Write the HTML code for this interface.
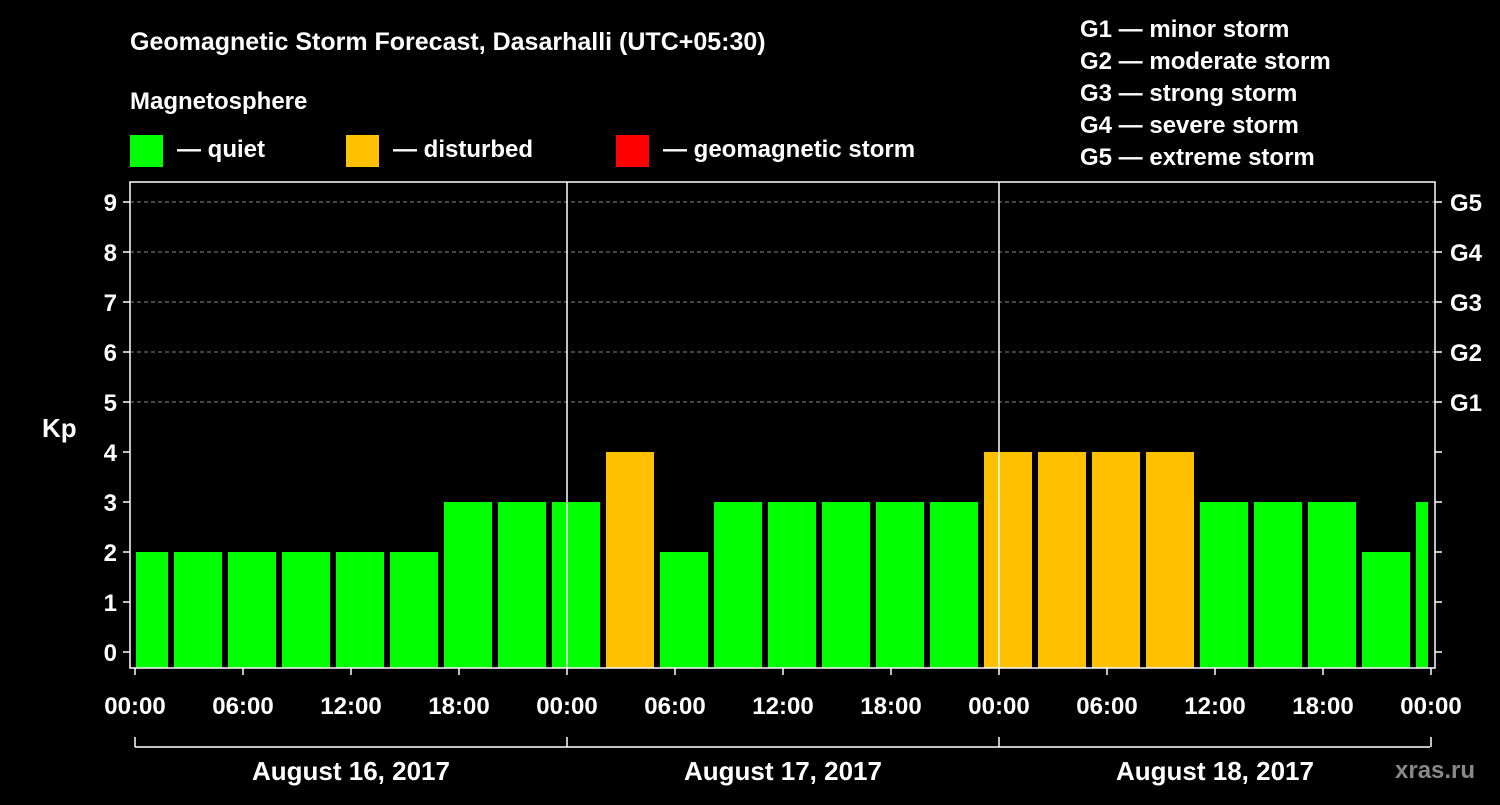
<!DOCTYPE html>
<html><head><meta charset="utf-8"><style>
body{margin:0;background:#000;width:1500px;height:800px;overflow:hidden}
svg text{font-family:"Liberation Sans",Arial,sans-serif;font-weight:bold;fill:#fff}
</style></head><body>
<svg id="c" width="1500" height="800">
<rect width="1500" height="800" fill="#000"/>
<text x="130" y="50" font-size="25">Geomagnetic Storm Forecast, Dasarhalli (UTC+05:30)</text>
<text x="130" y="109" font-size="24">Magnetosphere</text>
<g><rect x="130" y="135" width="33" height="32" fill="#00ff00"/><text x="177" y="157" font-size="24">— quiet</text></g>
<g><rect x="346" y="135" width="33" height="32" fill="#ffc000"/><text x="393" y="157" font-size="24">— disturbed</text></g>
<g><rect x="616" y="135" width="33" height="32" fill="#ff0000"/><text x="663" y="157" font-size="24">— geomagnetic storm</text></g>
<g font-size="24">
<text x="1080" y="37">G1 — minor storm</text>
<text x="1080" y="69">G2 — moderate storm</text>
<text x="1080" y="101">G3 — strong storm</text>
<text x="1080" y="133">G4 — severe storm</text>
<text x="1080" y="165">G5 — extreme storm</text>
</g>
<text x="42" y="437" font-size="26">Kp</text>
<g id="plot"></g>
<text x="1395" y="778" font-size="24" fill="#888" style="fill:#888">xras.ru</text>
</svg>
<script>
const kpValues=[2,2,2,2,2,2,3,3,3,4,2,3,3,3,3,3,4,4,4,4,3,3,3,2,3];
const yTicks=[0,1,2,3,4,5,6,7,8,9];
const gLabels=["G1","G2","G3","G4","G5"];
const xTickLabels=["00:00","06:00","12:00","18:00","00:00","06:00","12:00","18:00","00:00","06:00","12:00","18:00","00:00"];
const dayLabels=["August 16, 2017","August 17, 2017","August 18, 2017"];
const NS="http://www.w3.org/2000/svg",P=document.getElementById('plot');
const L=135,R=1430,T=182,B=668,pxH=18;
const y=v=>652-v*50, x=h=>L+h*pxH;
function el(t,a,txt){const e=document.createElementNS(NS,t);for(const k in a)e.setAttribute(k,a[k]);if(txt!==undefined)e.textContent=txt;P.appendChild(e);return e;}
yTicks.forEach(v=>{
 if(v>=5){const g=el('line',{x1:130,x2:1435,y1:y(v),y2:y(v),stroke:'#888','stroke-dasharray':'4,3','stroke-width':1});
 
 }
 const t=el('text',{x:117,y:y(v)+9,'font-size':24,'text-anchor':'end'},v);
 
 
 el('line',{x1:123,x2:130,y1:y(v),y2:y(v),stroke:'#fff','stroke-width':1.5});
 el('line',{x1:1435,x2:1442,y1:y(v),y2:y(v),stroke:'#fff','stroke-width':1.5});
});
gLabels.forEach((g,i)=>{const t=el('text',{x:1450,y:y(i+5)+9,'font-size':24},g);
 
 });
kpValues.forEach((v,i)=>{
 const start=-1+i*3;
 let x0=x(start)+3,x1=x(start+3)-3;
 x0=Math.max(x0,136);x1=Math.min(x1,1428);
 const r=el('rect',{x:x0,y:y(v),width:x1-x0,height:B-y(v),fill:v>=5?'#ff0000':(v>=4?'#ffc000':'#00ff00')});
 
 
});
[1,2].forEach(d=>{el('line',{x1:x(d*24),x2:x(d*24),y1:T,y2:B,stroke:'#fff','stroke-width':1.5});});
const f=el('rect',{x:130,y:T,width:1305,height:B-T,fill:'none',stroke:'#fff','stroke-width':1.5});


xTickLabels.forEach((s,i)=>{
 el('line',{x1:x(i*6),x2:x(i*6),y1:B,y2:B+7,stroke:'#fff','stroke-width':1.5});
 const t=el('text',{x:x(i*6),y:714,'font-size':24,'text-anchor':'middle'},s);
 
 
});
el('line',{x1:L,x2:R,y1:747,y2:747,stroke:'#fff','stroke-width':1.5});
[0,1,2,3].forEach(d=>el('line',{x1:x(d*24),x2:x(d*24),y1:737,y2:747,stroke:'#fff','stroke-width':1.5}));
dayLabels.forEach((s,i)=>{const t=el('text',{x:x(i*24+12),y:780,'font-size':26,'text-anchor':'middle'},s);
 
 });
</script>
</body></html>
